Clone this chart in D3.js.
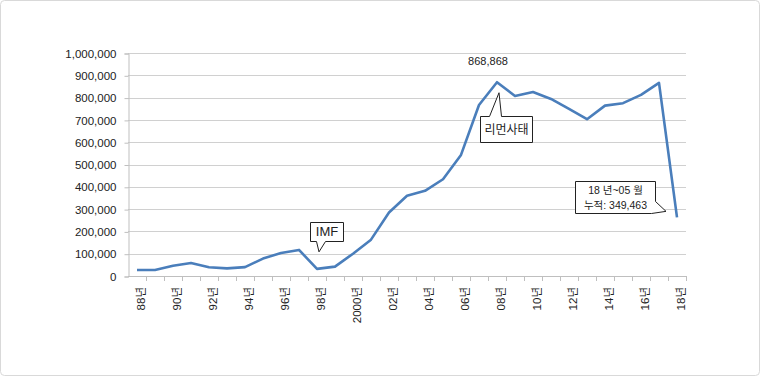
<!DOCTYPE html>
<html>
<head>
<meta charset="utf-8">
<script src="https://cdn.jsdelivr.net/npm/d3@7"></script>
<style>
  body { margin: 0; background: #fff; }
  text { font-family: "Liberation Sans", "Noto Sans CJK KR", sans-serif; }
</style>
</head>
<body>
<div id="chart"></div>
<script>
const years = ["88", "89", "90", "91", "92", "93", "94", "95", "96", "97", "98", "99",
    "2000", "01", "02", "03", "04", "05", "06", "07", "08", "09", "10", "11", "12",
    "13", "14", "15", "16", "17", "18"];
const values = [27000, 27000, 46000, 58000, 39000, 34000, 40000, 78000, 103000, 117000, 32000, 42000,
    100000, 163000, 285000, 360000, 382000, 434000, 543000, 767000, 868868, 807000, 825000, 794000, 749000,
    703000, 764000, 775000, 812000, 866000, 263000];
const yTicks = [0, 100000, 200000, 300000, 400000, 500000, 600000, 700000, 800000, 900000, 1000000];
const notes = [
    {year: "98", lines: ["IMF"]},
    {year: "08", lines: ["리먼사태"]},
    {year: "18", lines: ["18 년~05 월", "누적: 349,463"]}
];
const peakYear = "08";
const peakLabel = "868,868";

const width = 760, height = 376;
const margin = {top: 53, right: 74, bottom: 100, left: 128};

const data = years.map((y, i) => ({year: y, value: values[i]}));

const svg = d3.select("#chart")
    .append("svg")
    .attr("width", width)
    .attr("height", height);

svg.append("rect")
    .attr("x", 0.5).attr("y", 0.5)
    .attr("width", width - 1).attr("height", height - 1)
    .attr("rx", 4)
    .attr("fill", "#fff")
    .attr("stroke", "#d9d9d9");

const x = d3.scaleBand()
    .domain(years)
    .range([margin.left, width - margin.right]);

const y = d3.scaleLinear()
    .domain([0, 1000000])
    .range([height - margin.bottom, margin.top]);

const cx = d => x(d) + x.bandwidth() / 2;

// gridlines
svg.append("g")
    .selectAll("line")
    .data(yTicks.slice(1))
    .join("line")
    .attr("x1", margin.left)
    .attr("x2", width - margin.right)
    .attr("y1", d => Math.round(y(d)) + 0.5)
    .attr("y2", d => Math.round(y(d)) + 0.5)
    .attr("stroke", "#d0d0d0");

// y axis
const yAxis = svg.append("g")
    .attr("transform", `translate(${margin.left + 0.5}, 0.5)`)
    .call(d3.axisLeft(y).tickValues(yTicks).tickSize(4).tickPadding(8)
        .tickFormat(d3.format(",")));
yAxis.select(".domain").attr("stroke", "#bfbfbf");
yAxis.selectAll(".tick line").attr("stroke", "#bfbfbf");
yAxis.selectAll("text").attr("font-size", 11.5).attr("fill", "#222");

// x axis line and ticks between categories
const xg = svg.append("g");
xg.append("line")
    .attr("x1", margin.left).attr("x2", width - margin.right)
    .attr("y1", Math.round(y(0)) + 0.5).attr("y2", Math.round(y(0)) + 0.5)
    .attr("stroke", "#bfbfbf");
xg.selectAll(".xt")
    .data(years.slice(1).concat(["end"]))
    .join("line")
    .attr("x1", d => Math.round(d === "end" ? x.range()[1] : x(d)) + 0.5)
    .attr("x2", d => Math.round(d === "end" ? x.range()[1] : x(d)) + 0.5)
    .attr("y1", y(0))
    .attr("y2", y(0) + 5)
    .attr("stroke", "#bfbfbf");

xg.selectAll(".xl")
    .data(years.filter((d, i) => i % 2 === 0))
    .join("text")
    .attr("transform", d => `translate(${cx(d) + 8}, ${y(0) + 11}) rotate(-90)`)
    .attr("text-anchor", "end")
    .attr("font-size", 11.5)
    .attr("fill", "#222")
    .text(d => d + "년");

// line
svg.append("path")
    .datum(data)
    .attr("fill", "none")
    .attr("stroke", "#4a7ebb")
    .attr("stroke-width", 2.6)
    .attr("stroke-linejoin", "round")
    .attr("d", d3.line().x(d => cx(d.year)).y(d => y(d.value)));

// peak label
const peak = data.find(d => d.year === peakYear);
svg.append("text")
    .attr("x", cx(peak.year) - 9)
    .attr("y", y(peak.value) - 17)
    .attr("text-anchor", "middle")
    .attr("font-size", 11)
    .attr("fill", "#222")
    .text(peakLabel);

// callouts
function callout(note, box, tipDx, tipDy, side) {
    const d = data.find(e => e.year === note.year);
    const tx = cx(d.year) + tipDx, ty = y(d.value) + tipDy;
    const {x0, y0, w, h, p0, p1} = box;
    let path;
    if (side === "bottom") {
        path = `M${x0},${y0} H${x0 + w} V${y0 + h} H${p1} L${tx},${ty} L${p0},${y0 + h} H${x0} Z`;
    } else if (side === "top") {
        path = `M${x0},${y0} H${p0} L${tx},${ty} L${p1},${y0} H${x0 + w} V${y0 + h} H${x0} Z`;
    } else {
        path = `M${x0},${y0} H${x0 + w} V${p0} L${tx},${ty} L${x0 + w - 4},${y0 + h} H${x0} Z`;
    }
    svg.append("path")
        .attr("d", path)
        .attr("fill", "#fff")
        .attr("stroke", "#222")
        .attr("stroke-width", 1);
    const t = svg.append("text")
        .attr("text-anchor", "middle")
        .attr("fill", "#222");
    note.lines.forEach((l, i) => {
        t.append("tspan")
            .attr("x", x0 + w / 2)
            .attr("y", y0 + h / 2 + (i - (note.lines.length - 1) / 2) * 15 + 4)
            .text(l);
    });
    return t;
}

callout(notes[0], {x0: 310.5, y0: 222.5, w: 33, h: 19, p0: 316.5, p1: 325.5}, 2, -17, "bottom")
    .attr("font-size", 13);
callout(notes[1], {x0: 480.5, y0: 116.5, w: 52, h: 26, p0: 489.5, p1: 501.5}, 2, 10.5, "top")
    .attr("font-size", 12);
callout(notes[2], {x0: 575.5, y0: 181.5, w: 80, h: 32, p0: 201.5}, -11, -6, "right")
    .attr("font-size", 10.5);
</script>
</body>
</html>
